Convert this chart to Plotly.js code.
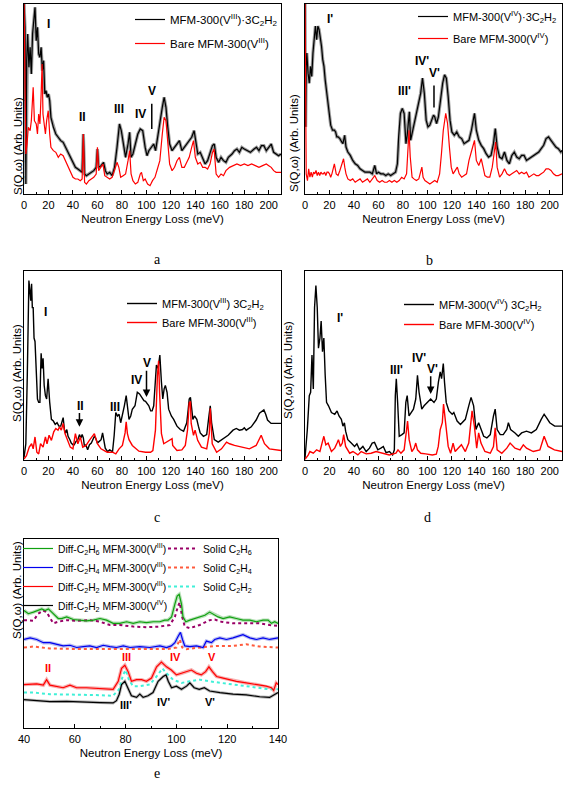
<!DOCTYPE html>
<html><head><meta charset="utf-8">
<script src="https://cdn.plot.ly/plotly-3.0.1.min.js"></script>
<style>html,body{margin:0;padding:0;background:#fff}#chart{width:567px;height:791px}</style>
</head><body><div id="chart"></div>
<script>
// ---------- DATA (x: Neutron Energy Loss / meV, y: S(Q,w) arb. units) ----------
// Panel a: MFM-300(V III)
const aLoaded = [[0,57.5],[0.8,50],[1.5,3],[2.2,40],[3,48],[4,38],[5,44],[6,36],[7,48],[8,52],[9,56],[10,46],[11,50],[12,42],[13,41],[14,44],[15,37],[16,40],[17,30],[18,31],[19,29],[20,30],[21,28],[22,23],[24,20],[26,18],[28,17],[30,16],[32,15.5],[34,14],[36,12],[38,10.5],[40,9],[42,8],[44,7.5],[46,7],[47.5,6.5],[48.5,18],[49.5,6],[51,5.5],[53,6],[55,6.5],[57,7],[59,8],[60,13.5],[61,8],[63,8.5],[65,9.5],[66.5,7],[68,6],[70,6.5],[72,5.5],[74,8],[76,14],[78,21],[79.5,19],[81,15],[83,11],[85,15],[86.3,18.5],[87.5,11],[89,12],[91,15],[93,18],[95,19.5],[97,19],[99,14],[100.5,11.5],[102,13],[104,14],[106,15],[107.5,13],[109,17],[111,22],[113,26],[114.5,29],[116,26],[117.5,20],[119,15],[121,13],[123,14],[125,15],[127,16],[129,13],[131,14],[133,15],[135,16],[137,17],[139,19],[140.5,15],[142,12],[144,12.5],[146,11],[148,9],[150,10],[152,12],[154,14.5],[155.5,15],[157,11],[159,9.5],[161,11],[163,10],[165,9.5],[167,11],[170,12],[172,13],[174,13.5],[176,12.5],[178,14],[180,13.5],[182,13],[185,12.5],[188,13.5],[190,14],[192,13],[194,14.5],[196,14.5],[198,13],[200,14],[202,15],[204,12.5],[206,12],[208,11.5],[210,12]];
const aBare = [[0,58],[0.8,40],[1.5,12],[2.5,15],[3.5,20],[5,19],[6,22],[7.5,32],[8.5,22],[10,21],[11,18],[12,24],[13,21],[14,30],[14.8,39],[15.5,24],[16.5,20],[17.5,18],[18.5,22],[19.8,25],[21,18],[22,14],[24,13],[26,12.5],[28,11],[30,12],[32,11.5],[34,10],[36,8],[38,6.5],[40,5],[42,4.5],[44,4.5],[46,4],[47.5,4.5],[48.5,18],[49.5,3.5],[51,3],[53,4],[55,4.5],[57,5],[59,6],[60,14],[61,7],[63,8],[64.5,9],[66,5.5],[68,5],[70,4.5],[72,5],[74,7.5],[76,9.5],[77.5,8],[79,5],[81,5.5],[83,6],[85,10],[86.3,13],[87.5,6],[89,4],[91,3],[93,3.5],[95,6],[96,6.5],[97.5,4],[99,4.5],[101,3],[103,2.5],[105,4],[107,5],[109,7.5],[111,10],[113,18],[114.5,23],[116,22],[117.5,16],[119,9],[121,7],[123,8],[125,10],[127,11],[129,8],[131,8],[133,9.5],[135,11],[137,14],[138.5,16],[140,11],[142,9],[144,9.5],[146,8],[148,8],[150,7.5],[152,9],[154,12.5],[155.3,13.5],[157,6],[159,5],[161,6],[163,5.5],[165,7],[168,8],[171,8.5],[174,9],[177,8.5],[180,9],[183,8.5],[186,9],[189,8.5],[192,8],[195,8.5],[198,9],[200,8.5],[202,8],[204,7],[206,6.5],[210,6.5]];
// Panel b: MFM-300(V IV)
const bLoaded = [[0,57.5],[0.5,20],[1,38],[1.5,42],[2.5,36],[3.5,33],[4.5,38],[5.5,35],[6.5,42],[7.5,47],[8.5,50],[9.5,46],[10.5,50],[11.5,49],[12.5,47],[13.5,44],[14.5,40],[15.5,38],[16.5,34],[17.5,30],[18.5,28],[19.5,25],[21,20.5],[22.5,19],[24,19],[25,18.5],[26,17],[27,17],[28.5,16.5],[30,15.5],[31,15],[32.4,17.5],[33.5,14],[35,12.5],[37,11.5],[39,10],[41,9],[43,8.5],[45,7.5],[47,7],[49,6.5],[51,6.5],[53,6.5],[55,6],[57,8.5],[58.5,6],[60,6.5],[62,6],[64,6],[66,5.5],[68,6],[70,5.5],[72,6],[74,6.5],[75.5,9],[76.5,17],[78,24],[79.5,25.5],[81,24],[82.5,15],[83.5,17.5],[84.5,22],[85.3,24.5],[86.3,16],[87.5,18],[89,21],[91,24],[93,27],[94.5,30],[96,34.5],[97.5,30],[99,22],[100.5,20],[102,20.5],[103.5,22],[105,23.5],[106,23],[107.5,21],[109,23],[111,29],[112.5,33],[114,35.5],[115.5,34.5],[117,29],[118.5,22],[120,18.5],[122,17.5],[124,18.5],[126,17],[128,16.5],[130,15],[132,15.5],[134,16],[136,19],[137.5,22],[138.5,24],[140,19],[142,16],[144,14.5],[146,13.5],[148,12],[150,11],[152,11.5],[154,15],[155.5,19.5],[157,14],[159,11],[161,10.5],[163,12.5],[165,10],[167,9],[169,11.5],[171,12.5],[173,11],[175,10.5],[177,11.5],[179,11.5],[181,10],[183,10.5],[185,11],[187,11.5],[189,12],[191,12.5],[193,13.5],[195,14.5],[197,16.5],[199,17],[201,16],[203,15],[205,14],[207,13.5],[209,12.5],[210,13]];
const bBare = [[0,57.5],[0.5,20],[1,6],[2,4],[3,7.5],[4,5],[5,6.5],[6,5],[7,6.5],[8,6],[9,7],[10,5.5],[11,6.5],[12,5.5],[13,6.5],[14,6],[15,6],[16,6.5],[17,5.5],[18,6.5],[19,6.5],[20,6],[21,5],[22,6],[23,8],[24,9],[25.5,6],[27,5.5],[28.5,7],[30,9],[31.5,10.5],[32.5,8],[33.5,6],[35,4.5],[37,4],[39,4.5],[41,3.5],[43,4],[45,4.5],[47,3.5],[49,4],[51,4.5],[53,3.5],[55,4.5],[57,5.5],[59,4],[61,3.5],[63,4],[65,3.5],[67,3.5],[69,4],[71,3.5],[73,4],[75,3.5],[77,4],[79,5],[81,4.5],[83,6],[84,14],[85,19],[86,11],[87.5,5],[89,4.5],[91,4],[93,4.5],[95.5,8],[96.5,5],[98,4],[100,3.5],[102,3],[104,3.5],[106,4],[108,3.5],[110,6],[111.5,12],[113,19],[115,24],[116.5,21],[118,14],[119.5,8],[121,6],[123,7],[124.5,8],[126,6],[128,5],[130,5.5],[132,6],[134,10],[135.5,12.5],[137,14],[138.5,16],[140,10],[142,8.5],[144,10.5],[145.5,8],[147,5.5],[149,5],[151,5],[153,8],[154.5,13],[155.8,15.5],[157,8],[159,5],[161,6],[163,7.5],[165,6],[167,5.5],[169,6],[171,6.5],[173,7],[175,6],[177,6.5],[179,6],[181,6.5],[183,5],[185,5.5],[187,6],[189,5.5],[191,5.5],[193,6],[195,6.5],[197,7.5],[199,7.5],[201,7],[203,6],[205,5.5],[207,5.5],[210,6]];
// Panel c: calculated MFM-300(V III)
const cLoaded = [[0,0.8],[1.5,4.8],[2.7,25],[3.5,48],[4,53],[4.8,50],[5.5,47],[6.2,52],[6.8,45],[7.5,45],[8.2,36],[9,35],[10,23],[11,18],[12,17],[13,17],[13.5,25],[14,31.5],[14.8,27],[15.6,30],[16.5,22],[17.5,19],[18.5,18],[19.7,24],[21,17],[22.4,12],[24,11.5],[25.5,10.5],[27,11],[28.5,10],[30,10],[31,11],[32,12.5],[33,9],[34,8],[35,9],[36,7],[37.5,6],[38.6,5],[40,4.5],[41,4.5],[42.5,5.5],[44,6],[45.3,7.5],[46.5,6.5],[47.5,7.5],[48.5,6.5],[49.4,4],[50.5,4.5],[52,3],[53.5,4.5],[55,5],[56.5,6],[57.5,7],[58.5,6.5],[60,5],[61.5,5.5],[63,6],[64.2,8],[65.3,6],[66.4,3.5],[68.3,2.5],[70,3],[71,2.8],[72.3,2.3],[73.7,7.3],[75,14],[76.4,13],[77.7,13.5],[79,11],[80.4,13],[82,16],[83.5,19],[84.5,15],[85.8,12],[87.2,13],[88.5,15],[90.7,16],[92.6,20],[94.4,19.5],[96.6,18],[98,17.5],[99.3,17.3],[101,16.5],[102,16],[103.5,14.5],[104.7,14.5],[106,16],[107.4,25],[108.2,28],[109.6,27],[111,31],[112.3,23],[113.4,18],[114.5,21],[115.5,22],[116.9,20],[118.2,15],[120.4,13],[122.3,12],[125,10],[127.7,9],[130.4,8.5],[133,11],[134.2,15],[135,18],[136,18.5],[136.6,17],[138,12],[139.3,13],[140.5,12.5],[141.2,12],[142.5,10],[144,8],[146.6,7],[149.3,7.5],[151.1,13],[152.2,16],[153.3,11],[155.5,6],[158.7,5.3],[162.8,6.3],[166.8,7.3],[170.8,8.8],[173.5,9.3],[176,8.8],[178.5,9],[180,9.5],[181.6,8.8],[185.7,9.8],[189.7,11.8],[192.4,13.8],[194.3,14.3],[196,14.8],[197.5,13.5],[199,11.8],[201.9,10.8],[205,10.8],[210,10.8]];
const cBare = [[0,0.3],[2,1.3],[4.3,3.8],[6.2,4.8],[7.5,3.3],[9,6.8],[10.5,2.3],[12,1.8],[13.5,4.8],[15.6,3.8],[17.5,6.8],[18.8,4.8],[20.5,7.3],[22.4,5.8],[24.3,8.3],[26,9.3],[27.8,8.8],[29,9.8],[30.5,8.8],[32,10.8],[33.5,7.8],[35.6,5.8],[37.8,3.8],[40,3.3],[42,7.8],[44,4.8],[46,6.8],[48,3.8],[50.7,4.3],[53.4,5.8],[57.5,7.8],[60,4.8],[62.9,3.3],[65.6,2.8],[68,2.3],[72.3,2.3],[75,1.8],[77.7,3.3],[80.4,4.3],[82.6,8],[83.5,11.3],[84.5,7.8],[85.8,6],[88.5,4.3],[91.2,3.3],[93.9,2.6],[99.3,2.3],[103.4,2.3],[105.3,2.8],[107.4,8.8],[109,24.8],[110,29.3],[110.8,19.8],[112.3,7.8],[114.2,4.8],[116.9,5.3],[119.6,5.8],[121,6.3],[121.5,4.3],[125,2.8],[129,3],[131.8,4.3],[133.6,8.8],[135,16.8],[136,17.3],[136.6,10.8],[138.5,7.3],[139.8,8.8],[141.9,5.8],[145,3.8],[149.3,3.3],[151.4,7.8],[152.2,15.3],[153.8,4.8],[157.4,2.3],[161.4,3.3],[165.5,5.3],[168,4.8],[172,4.3],[177.4,3.8],[184.2,3.3],[189.7,4.3],[192.4,6.3],[193.8,7.3],[196.5,4.8],[200.5,3.3],[210,2.8]];
// Panel d: calculated MFM-300(V IV)
const dLoaded = [[0,0.5],[1.9,9],[3.5,19],[4.6,20],[5.7,31],[6.8,21],[7.8,45],[8.9,51.5],[10,45],[11,33],[12.2,36],[13.2,41],[14.3,32],[15.4,36],[16.5,25],[17.6,17],[19.2,16],[21.6,14],[24.3,13.5],[26.2,14.5],[27.8,13],[29.7,12],[31,10],[32.2,11],[33.2,8.5],[35,6],[37.8,5],[40.5,4],[42.4,4.8],[44.6,3],[47.3,4],[50,2.5],[52.7,3.5],[54.9,5],[56.8,5.2],[59.5,3],[62,3.5],[64,4],[66.2,2.2],[69,2.5],[71.6,1.5],[73,3],[73.8,19],[74.6,24],[75.7,17],[77,7],[79.2,7.5],[81,8],[82.4,17],[83.5,19],[85,13],[87,14],[88.6,15],[90.5,18],[91.9,25],[93.2,20],[95.4,15],[97.3,16],[100,17],[102.7,18],[105.4,17],[107.3,18],[109,23],[110.5,26],[111.6,24],[113,28.5],[114,23],[115.4,17],[117.6,14.5],[120.3,13.5],[121.6,14],[124.3,11.5],[127,10.5],[131,12],[133.8,16],[135.7,18.5],[137.8,16],[139.7,9],[141.9,11],[143.8,9],[146,7],[148.6,6.5],[151.4,7.5],[154,13],[155.4,15],[157,9],[159.5,7.5],[162,7.5],[164.9,9],[166.2,11],[168,9],[171.6,8],[174.3,7],[177,8],[181,8.5],[185,8],[189,9],[193,12],[195.4,13.5],[197.3,12.5],[200,11],[204,10],[210,10]];
const dBare = [[0,0.2],[2.7,1.5],[4,2.5],[6.8,2],[9.5,3],[12.2,2.5],[14.3,5.5],[15.4,7],[17,4.5],[18.9,5],[21.6,2.5],[24.3,3.5],[26.2,5],[27.3,6],[28.9,4],[30.5,5],[31.6,7.5],[33.2,4],[36.5,2],[39.2,2.5],[43.2,1.5],[45.9,2.5],[50,1.8],[54,2],[58.1,2.5],[63.5,2],[68.9,1.5],[74.3,2],[76,3],[78.4,2],[81,3],[83,9],[83.8,11.5],[85.1,6],[87.3,2.5],[89.2,3.5],[90.5,5],[91.9,3],[94.6,2],[98.6,1.8],[104,1.5],[107.3,1.7],[108.9,4],[110.5,9],[112.2,11],[113.2,16.5],[114.9,11],[117,4],[119,2],[121,5],[122.7,2.5],[125.4,3.5],[127.8,4.5],[131,2.5],[133.8,5],[136.5,14.5],[138.4,10],[140.3,3.5],[141.9,8],[143.8,5],[147,2.5],[151.4,2],[154,4],[155.4,9.5],[157,3],[160.8,2],[164.9,3.5],[167.6,5],[171.6,3.5],[175.7,3],[178.4,4.5],[181,3.5],[186.5,2.5],[191.9,3],[195.4,7],[198.6,4],[203.8,3],[210,2.5]];
// Panel e: difference spectra and solid references
const eDiffC2H6 = [[40,36.5],[41.7,35.5],[43.7,36],[45.6,36.5],[47,37],[48.3,36.5],[49.6,37],[50.9,36],[52.2,35],[53.5,34],[54.8,34],[56.8,34.5],[59.4,33.7],[62,33.5],[64.6,33.3],[67.3,33.5],[69.9,34],[72.5,33.5],[75.1,32.5],[77.7,32.5],[80.4,33],[83,32.5],[85.6,33],[88.2,32.7],[90.9,33],[93.5,33],[95.4,33.5],[96.7,33.5],[98.1,34.5],[99.4,38.5],[100.3,41],[101.1,41.5],[102,38.5],[102.6,34.5],[103.7,33],[105.3,33.5],[107.2,34],[109.2,34.5],[111.2,35],[113.1,36],[114.4,35.5],[116.4,34.5],[118.4,34],[121,34.5],[123.6,34],[126.2,33.5],[128.9,33.5],[131.5,33],[134.1,33.5],[136.1,33.5],[137.4,32.5],[138.7,33],[140,32.5]];
const eSolidC2H6 = [[40,33.5],[43.7,33.3],[45.6,35.5],[47.6,36.5],[48.9,36],[50.2,34],[51.5,32.5],[53.5,33],[56.8,33.5],[60.8,33.3],[66,33.5],[69.9,33],[73.8,32],[77.7,32],[83,31.5],[88.2,31.3],[93.5,31.5],[97.4,32],[99.4,34.5],[100.7,38],[101.3,39],[102.3,34.5],[103.3,31.5],[105.3,31],[109.2,32],[113.1,33.5],[115.1,33.7],[117.7,33],[122.3,32.5],[127.5,32.5],[132.8,32.5],[136.7,32],[140,31.7]];
const eDiffC2H4 = [[40,27.5],[42.4,28],[45,27.5],[47.6,26.5],[50.2,26.5],[52.8,26],[55.4,25.5],[58.1,25.7],[60.7,25],[63.3,25.3],[65.9,25.5],[68.6,25],[71.2,25.7],[73.8,25.3],[76.4,25],[79.1,25.5],[81.7,25],[85.6,25.3],[89.5,25],[93.5,25.5],[96.1,25],[98,25.5],[99.4,26.5],[100.7,28.5],[101.6,29.7],[102.4,27.5],[103.3,25.5],[105.3,25.3],[107.9,25.5],[110.5,25],[111.8,27],[113.8,26.5],[115.1,27.5],[117.1,28],[119.7,27.5],[122.3,28],[124.3,28.5],[126.2,29],[128.9,28],[131.5,27.5],[134.1,28],[136.7,27.5],[140,28]];
const eSolidC2H4 = [[40,25],[43.7,25.3],[50.2,24.7],[56.8,24.5],[63.3,24.5],[69.9,24.5],[76.4,24.5],[83,24.3],[89.5,24.5],[96.1,24.5],[100,25],[101.3,27.5],[102.3,25],[103.9,24.5],[109.2,25],[115.7,25.5],[122.3,25.5],[127.5,26],[132.8,25.3],[140,25]];
const eDiffC2H2V3 = [[40,13.5],[42.4,13.5],[45,13.7],[47.6,13.3],[48.9,15],[50.2,13.3],[52.8,13],[55.4,12.5],[58.1,13.3],[60.7,12.5],[64.6,12.5],[68.6,12.3],[72.5,12],[75.1,12],[77.1,14.5],[78.4,18.5],[79.7,19.5],[81,17.5],[82.3,14.5],[84.3,15],[86.3,15],[88.2,14.5],[90.2,15.5],[92.2,19],[94.1,20.5],[96.1,19],[98,18],[100,16.5],[102,17],[103.9,17.5],[105.9,18],[107.9,17],[109.8,16.5],[111.5,17.5],[112.8,19],[114.2,17.5],[115.8,16],[118.4,15.5],[121,15],[123.6,14.5],[127.5,14],[131.5,13.5],[135.4,13],[137.4,12.5],[138.3,11.7],[139.3,14],[140,13.5]];
const eSolidC2H2 = [[40,11],[43.7,11],[50.2,10.5],[56.8,10.5],[63.3,10.3],[69.9,10.2],[75,10],[77.4,12],[79,16.5],[80,18],[81.3,15],[82.9,13],[85.5,13],[89.5,13.5],[92.2,16],[94.5,18.5],[96.1,17],[98.7,15],[102,14],[105.3,14.5],[109.2,15],[113.1,14.5],[117.1,14],[122.3,13.5],[127.5,13],[132.8,12.5],[136.7,12],[140,12]];
const eDiffC2H2V4 = [[40,8.8],[43.7,8.5],[50.2,8.2],[56.8,8.3],[63.3,8],[69.9,7.9],[75.1,7.8],[76.4,8.5],[77.5,10.5],[78.4,13.5],[79.7,14.5],[81,12.5],[82.3,10],[84.3,9.5],[85.6,10.5],[86.9,9.5],[88.8,10],[90.8,11],[92.8,14.5],[94.8,16],[95.9,16.5],[96.8,14.5],[98.1,12.5],[100,13],[102,12],[104,13],[105.3,14],[107,12.5],[109,12],[111,12.5],[113.1,11.5],[117.1,11],[122.3,10.5],[127.5,10.3],[132.8,9.7],[136.7,9.5],[140,11]];

const xTicksFull = [0,20,40,60,80,100,120,140,160,180,200];
const xTicksE = [40,60,80,100,120,140];
const panelLetters = ['a','b','c','d','e'];
const xTitle = 'Neutron Energy Loss (meV)';
const yTitle = 'S(Q,ω) (Arb. Units)';

// ---------- BUILD ----------
const F = 'Liberation Sans, Arial, sans-serif';
const xs = d => d.map(p => p[0]);
const ys = d => d.map(p => p[1]);
const sfx = ax => (ax === 1 ? '' : String(ax));
function line(d, ax, color, name, opts) {
  opts = opts || {};
  return {
    type: 'scatter', mode: 'lines', x: xs(d), y: ys(d),
    xaxis: 'x' + sfx(ax), yaxis: 'y' + sfx(ax),
    name: name || '', showlegend: !!name && !opts.halo,
    legend: opts.legend, legendgroup: opts.group,
    line: {color: color, width: opts.width || 1.2, dash: opts.dash || 'solid'},
    hoverinfo: 'skip'
  };
}
const halo = (d, ax, color, w) => line(d, ax, color, '', {halo: true, width: w || 3});

const traces = [
  halo(aLoaded, 1, '#9c9c9c', 3.2),
  line(aLoaded, 1, '#000', 'MFM-300(V<sup>III</sup>)·3C<sub>2</sub>H<sub>2</sub>', {legend: 'legend', group: 'a1'}),
  line(aBare, 1, '#ff0000', 'Bare MFM-300(V<sup>III</sup>)', {legend: 'legend', group: 'a2'}),
  halo(bLoaded, 2, '#9c9c9c', 3.2),
  line(bLoaded, 2, '#000', 'MFM-300(V<sup>IV</sup>)·3C<sub>2</sub>H<sub>2</sub>', {legend: 'legend2', group: 'b1'}),
  line(bBare, 2, '#ff0000', 'Bare MFM-300(V<sup>IV</sup>)', {legend: 'legend2', group: 'b2'}),
  line(cLoaded, 3, '#000', 'MFM-300(V<sup>III</sup>) 3C<sub>2</sub>H<sub>2</sub>', {legend: 'legend3', group: 'c1', width: 1.4}),
  line(cBare, 3, '#ff0000', 'Bare MFM-300(V<sup>III</sup>)', {legend: 'legend3', group: 'c2', width: 1.4}),
  line(dLoaded, 4, '#000', 'MFM-300(V<sup>IV</sup>) 3C<sub>2</sub>H<sub>2</sub>', {legend: 'legend4', group: 'd1', width: 1.4}),
  line(dBare, 4, '#ff0000', 'Bare MFM-300(V<sup>IV</sup>)', {legend: 'legend4', group: 'd2', width: 1.4}),
  halo(eDiffC2H6, 5, '#b8e0b8', 3.5),
  halo(eDiffC2H4, 5, '#b8bdf0', 3.5),
  halo(eDiffC2H2V3, 5, '#f7b0b0', 3.5),
  halo(eDiffC2H2V4, 5, '#bbbbbb', 3),
  line(eSolidC2H6, 5, '#990066', 'Solid C<sub>2</sub>H<sub>6</sub>', {legend: 'legend6', group: 'e5', dash: 'dot', width: 2}),
  line(eSolidC2H4, 5, '#ff5a3c', 'Solid C<sub>2</sub>H<sub>4</sub>', {legend: 'legend6', group: 'e6', dash: 'dot', width: 2}),
  line(eSolidC2H2, 5, '#40f0d8', 'Solid C<sub>2</sub>H<sub>2</sub>', {legend: 'legend6', group: 'e7', dash: 'dot', width: 2}),
  line(eDiffC2H6, 5, '#10a010', 'Diff-C<sub>2</sub>H<sub>6</sub> MFM-300(V<sup>III</sup>)', {legend: 'legend5', group: 'e1'}),
  line(eDiffC2H4, 5, '#0000ee', 'Diff-C<sub>2</sub>H<sub>4</sub> MFM-300(V<sup>III</sup>)', {legend: 'legend5', group: 'e2'}),
  line(eDiffC2H2V3, 5, '#ff0000', 'Diff-C<sub>2</sub>H<sub>2</sub> MFM-300(V<sup>III</sup>)', {legend: 'legend5', group: 'e3'}),
  line(eDiffC2H2V4, 5, '#000000', 'Diff-C<sub>2</sub>H<sub>2</sub> MFM-300(V<sup>IV</sup>)', {legend: 'legend5', group: 'e4'})
];

const W = 567, H = 791;
const px = v => v / W, py = v => (H - v) / H;
function xax(n, dom, range, ticks) {
  return {
    anchor: 'y' + sfx(n),
    domain: [px(dom[0]), px(dom[1])], range: range, tickvals: ticks,
    showline: true, linecolor: '#000', linewidth: 1, mirror: true,
    ticks: 'inside', ticklen: 4, tickcolor: '#000', ticklabelstandoff: 1,
    minor: {ticks: 'inside', ticklen: 2, dtick: 10, tickcolor: '#000'},
    showgrid: false, zeroline: false,
    tickfont: {family: F, size: 11, color: '#000'},
    title: {text: xTitle, font: {family: F, size: 11.5, color: '#000'}, standoff: 4}
  };
}
function yax(n, dom, range) {
  return {
    anchor: 'x' + sfx(n),
    domain: [py(dom[1]), py(dom[0])], range: range,
    showline: true, linecolor: '#000', linewidth: 1, mirror: true,
    showticklabels: false, ticks: '', showgrid: false, zeroline: false
  };
}
function leg(x, ytop, size, gap) {
  return {x: px(x), y: py(ytop), xanchor: 'left', yanchor: 'top', bgcolor: 'rgba(0,0,0,0)',
    font: {family: F, size: size, color: '#000'}, tracegroupgap: gap, itemwidth: 30};
}

const ann = [];
function lab(text, x, y, ax, color, size) {
  ann.push({text: '<b>' + text + '</b>', x: x, y: y, xref: 'x' + sfx(ax), yref: 'y' + sfx(ax),
    showarrow: false, font: {family: F, size: size || 12, color: color || '#000'}});
}
function arr(x, y0, y1, ax, head) {
  const s = sfx(ax);
  ann.push({text: '', x: x, y: y1, ax: x, ay: y0, xref: 'x' + s, yref: 'y' + s, axref: 'x' + s, ayref: 'y' + s,
    showarrow: true, arrowhead: head ? 2 : 0, arrowsize: 1, arrowwidth: 1.5, arrowcolor: '#000', standoff: 0, startstandoff: 0});
}
lab('I', 20.2, 51, 1); lab('II', 48, 23, 1); lab('III', 78, 25.5, 1); lab('IV', 95, 24, 1); lab('V', 104.4, 31, 1);
arr(104.4, 27.5, 19.5, 1, false);
lab("I'", 20.8, 52, 2); lab("III'", 81, 30.8, 2); lab("IV'", 96, 39.6, 2); lab("V'", 106.2, 36, 2);
arr(105.4, 32.8, 25.8, 2, false);
lab('I', 17.5, 43.6, 3); lab('II', 45.9, 16, 3); lab('III', 74.2, 15.6, 3); lab('IV', 92, 23.6, 3); lab('V', 100.1, 28.6, 3);
arr(45.3, 14.3, 9.8, 3, true); arr(100.1, 26.8, 18.6, 3, true);
lab("I'", 28.4, 41.8, 4); lab("III'", 74.9, 26.5, 4); lab("IV'", 93.2, 30.2, 4); lab("V'", 104, 27, 4);
arr(102.7, 25.2, 19.5, 4, true);
lab('II', 49.3, 18.5, 5, '#ff0000', 11); lab('III', 80.4, 22.2, 5, '#ff0000', 11); lab('IV', 99.6, 22.2, 5, '#ff0000', 11); lab('V', 114, 22.2, 5, '#ff0000', 11);
lab("III'", 80.1, 7.2, 5, '#000', 11); lab("IV'", 94.8, 8, 5, '#000', 11); lab("V'", 113.1, 8, 5, '#000', 11);

const letterPos = [[152, 250], [435, 251], [152, 517], [433, 517], [152, 783]];
panelLetters.forEach((t, i) => ann.push({text: t, x: px(letterPos[i][0]), y: py(letterPos[i][1]), xref: 'paper', yref: 'paper',
  showarrow: false, font: {family: 'Liberation Serif, Times New Roman, serif', size: 14, color: '#000'}}));
const yTitlePos = [[10, 95], [294, 92], [9, 373], [288, 370], [9, 641]];
yTitlePos.forEach(p => ann.push({text: yTitle, x: px(p[0]), y: py(p[1]), xref: 'paper', yref: 'paper', textangle: -90,
  showarrow: false, font: {family: F, size: 11.5, color: '#000'}}));

const layout = {
  width: W, height: H, margin: {l: 0, r: 0, t: 0, b: 0}, paper_bgcolor: '#fff', plot_bgcolor: '#fff',
  showlegend: true, font: {family: F, color: '#000'},
  xaxis: xax(1, [24, 281], [0, 210], xTicksFull), yaxis: yax(1, [4, 194], [0, 57]),
  xaxis2: xax(2, [305, 562], [0, 210], xTicksFull), yaxis2: yax(2, [4, 194], [0, 56.6]),
  xaxis3: xax(3, [24, 281], [0, 210], xTicksFull), yaxis3: yax(3, [271, 460], [0, 55.8]),
  xaxis4: xax(4, [305, 562], [0, 210], xTicksFull), yaxis4: yax(4, [271, 460], [0, 55.8]),
  xaxis5: xax(5, [24, 278], [40, 140], xTicksE), yaxis5: yax(5, [539, 728], [0, 58.7]),
  legend: leg(130, 5, 11.5, 5), legend2: leg(413, 2, 11, 3),
  legend3: leg(122, 289, 11, 0), legend4: leg(399, 290, 11, 1),
  legend5: leg(18, 534, 10.3, 0), legend6: leg(163, 534, 10.3, 0),
  annotations: ann
};
Plotly.newPlot('chart', traces, layout, {staticPlot: true});
</script></body></html>
